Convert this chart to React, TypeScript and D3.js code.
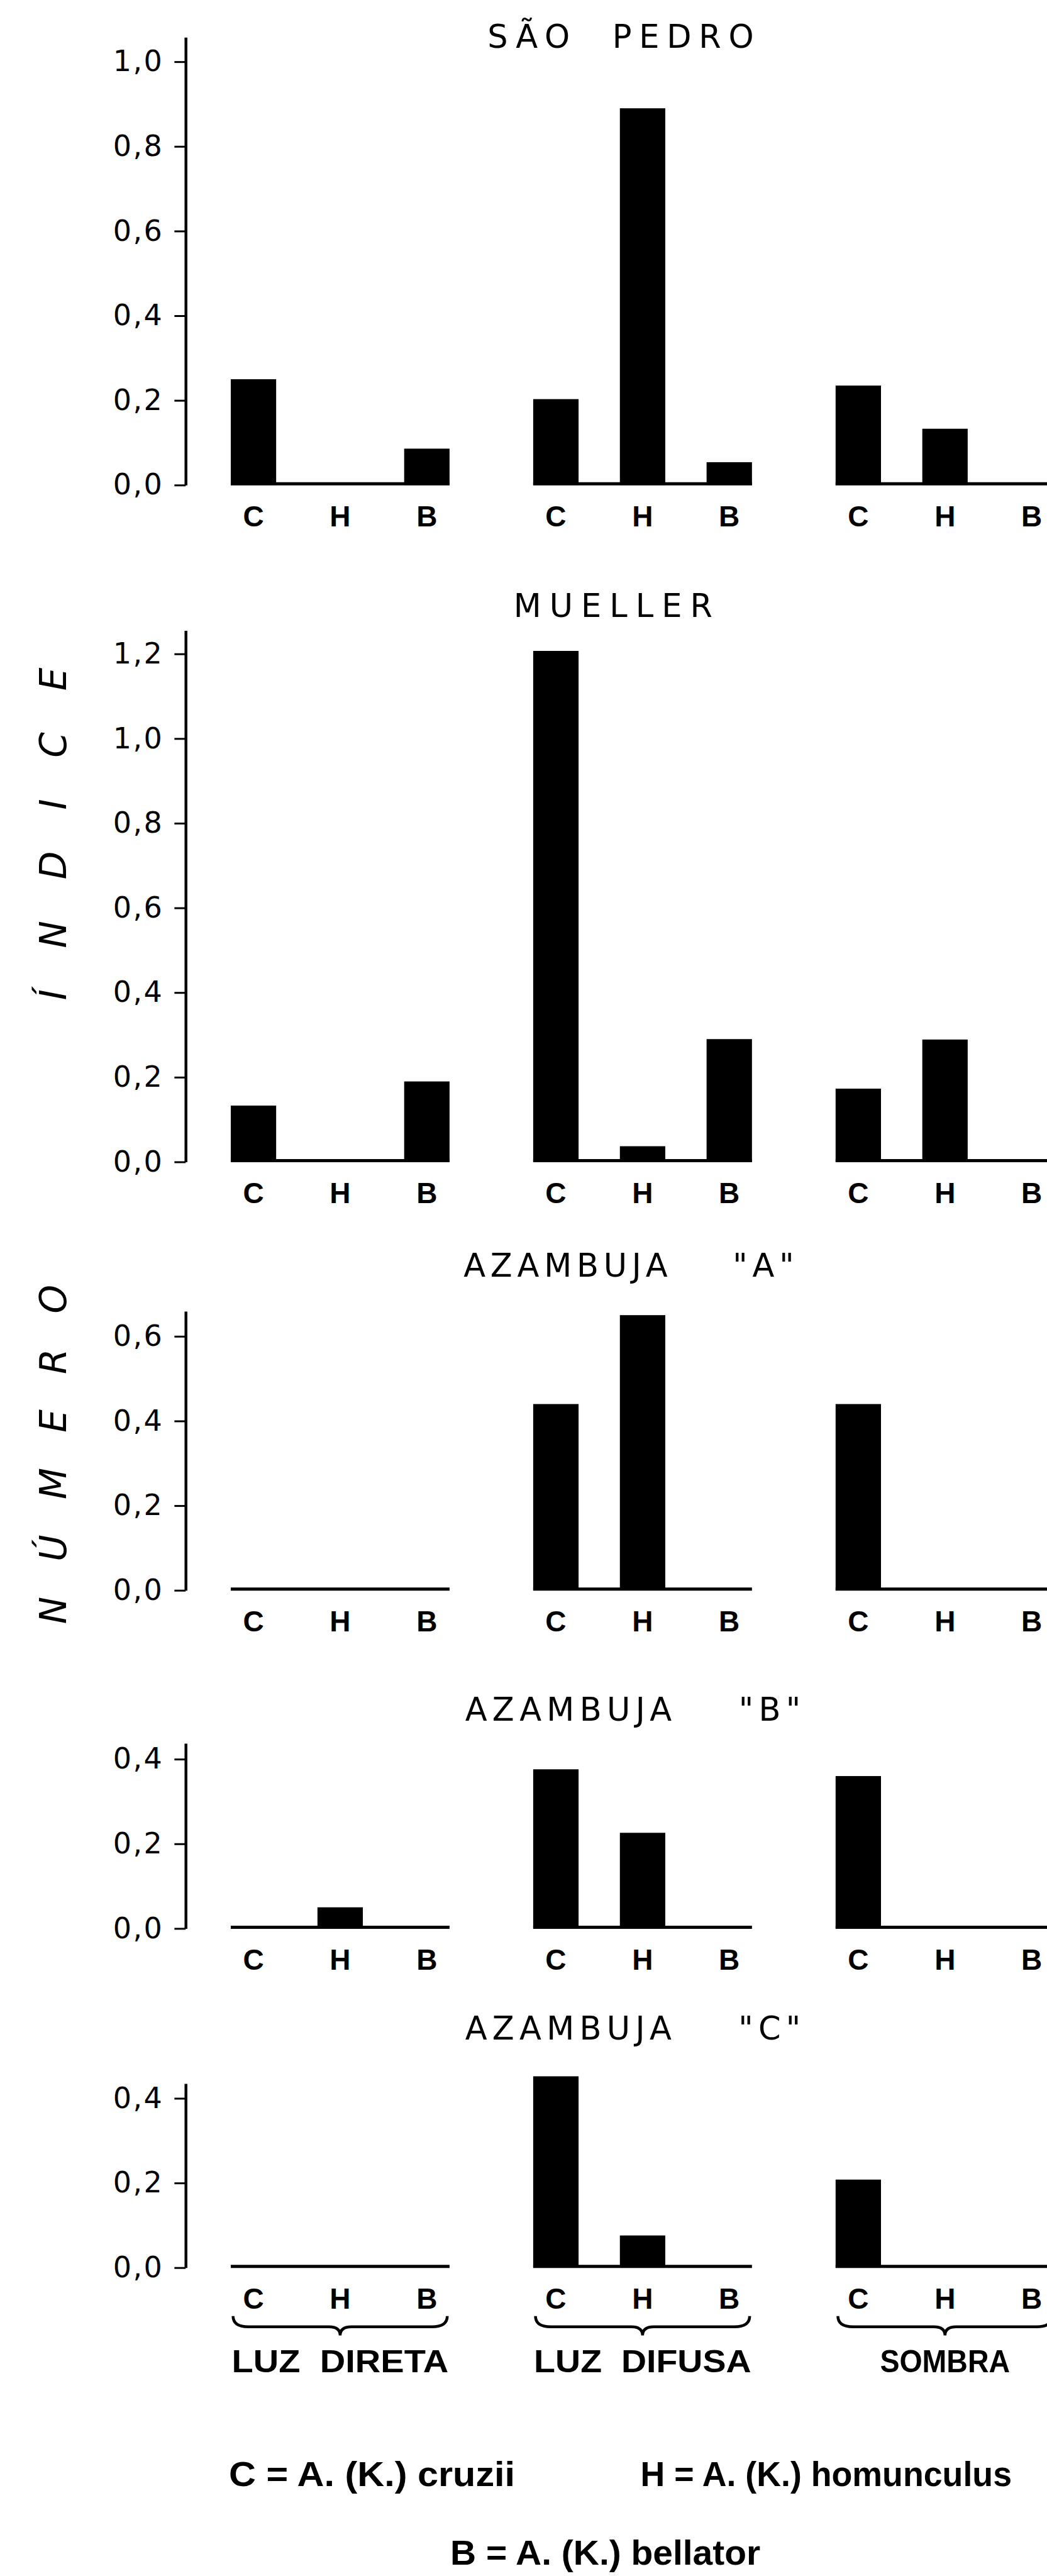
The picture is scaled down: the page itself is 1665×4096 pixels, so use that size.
import React, { useEffect, useRef } from 'react';
import * as d3 from 'd3';

// reference is 2051 x 5045, window is 1665 x 4096
const S = 0.811;
const px = (v: number) => v * S;

const species = ['C', 'H', 'B'];
const conditions = ['LUZ  DIRETA', 'LUZ  DIFUSA', 'SOMBRA'];
const localities = ['SÃO  PEDRO', 'MUELLER', 'AZAMBUJA    "A"', 'AZAMBUJA    "B"', 'AZAMBUJA    "C"'];
const tickMax = [1.0, 1.2, 0.6, 0.4, 0.4];

// número índice per condition, in the order [C, H, B]
const saoPedro = [[0.25, 0, 0.086], [0.203, 0.89, 0.054], [0.235, 0.133, 0]];
const mueller = [[0.133, 0, 0.19], [1.207, 0.037, 0.29], [0.173, 0.289, 0]];
const azambujaA = [[0, 0, 0], [0.44, 0.65, 0], [0.44, 0, 0]];
const azambujaB = [[0, 0.05, 0], [0.376, 0.226, 0], [0.36, 0, 0]];
const azambujaC = [[0, 0, 0], [0.452, 0.076, 0], [0.208, 0, 0]];
const panelData = [saoPedro, mueller, azambujaA, azambujaB, azambujaC];

const legendItems = ['C = A. (K.) cruzii', 'H = A. (K.) homunculus', 'B = A. (K.) bellator'];
const yLabelWords = ['NÚMERO', 'ÍNDICE'];

// layout, in reference pixels
const UNIT = 830; // px per 1.0 of the index
const zeroY = [951, 2278, 3118, 3781, 4446];
const axisTopY = [73, 1236, 2571, 3418, 4085];
const titleY = [94, 1210, 2503, 3373, 3999];
const titleX = [956, 1007, 909, 912, 912];
const titleW = [522, 390, 648, 658, 658];
const legendX = [449, 1256, 883];
const legendY = [4874, 4874, 5028];
const legendW = [561, 728, 608];
const yLabelStart = [3184, 1961];
const yLabelLen = [665, 652];

function App() {
  const svgRef = useRef<SVGSVGElement>(null);

  useEffect(() => {
    const svg = d3.select(svgRef.current);
    svg.selectAll('*').remove();

    const x0 = d3.scalePoint<string>().domain(conditions).range([px(667), px(1853)]);
    const x1 = d3.scalePoint<string>().domain(species).range([-px(170), px(170)]);
    const barW = px(89);
    const fmt = d3.formatLocale({ decimal: ',', thousands: '.', grouping: [3], currency: ['', ''] }).format('.1f');

    panelData.forEach((rows, p) => {
      const top = (zeroY[p] - axisTopY[p]) / UNIT;
      const y = d3.scaleLinear().domain([0, top]).range([px(zeroY[p]), px(axisTopY[p])]);
      const g = svg.append('g');

      // panel title
      g.append('text')
        .attr('x', px(titleX[p]))
        .attr('y', px(titleY[p]))
        .attr('textLength', px(titleW[p]))
        .attr('lengthAdjust', 'spacing')
        .style('white-space', 'pre')
        .attr('font-family', 'DejaVu Sans')
        .attr('font-size', 51)
        .text(localities[p]);

      // y axis
      const axis = d3.axisLeft(y)
        .tickValues(d3.range(0, tickMax[p] + 0.001, 0.2))
        .tickSize(px(22))
        .tickSizeOuter(0)
        .tickPadding(17)
        .tickFormat(d => fmt(+d));
      const ax = g.append('g').attr('transform', `translate(${px(364)},0)`).call(axis);
      ax.select('.domain').attr('stroke', '#000').attr('stroke-width', 4.5);
      ax.selectAll('.tick line').attr('stroke', '#000').attr('stroke-width', 3);
      ax.selectAll('.tick text')
        .attr('font-family', 'DejaVu Sans')
        .attr('font-size', 46)
        .attr('letter-spacing', 2.5)
        .attr('fill', '#000');

      rows.forEach((vals, ci) => {
        const gx = x0(conditions[ci])!;
        // zero line across the group
        g.append('line')
          .attr('x1', gx + x1('C')! - barW / 2)
          .attr('x2', gx + x1('B')! + barW / 2)
          .attr('y1', y(0) - 2)
          .attr('y2', y(0) - 2)
          .attr('stroke', '#000')
          .attr('stroke-width', 5);

        const bars = vals.map((v, i) => ({ v, s: species[i] })).filter(d => d.v > 0);
        g.selectAll(null)
          .data(bars)
          .join('rect')
          .attr('x', d => gx + x1(d.s)! - barW / 2)
          .attr('y', d => y(d.v))
          .attr('width', barW)
          .attr('height', d => y(0) - y(d.v))
          .attr('fill', '#000');

        g.selectAll(null)
          .data(species)
          .join('text')
          .attr('x', d => gx + x1(d)!)
          .attr('y', px(zeroY[p] + 81))
          .attr('text-anchor', 'middle')
          .attr('font-family', 'Liberation Sans')
          .attr('font-weight', 'bold')
          .attr('font-size', 46)
          .text(d => d);
      });
    });

    // braces and condition names under the last panel
    const braceTop = px(4541);
    const braceMid = px(4562);
    const braceTip = px(4579);
    const halfW = px(210);
    conditions.forEach(c => {
      const cx = x0(c)!;
      const path = d3.path();
      path.moveTo(cx - halfW, braceTop);
      path.quadraticCurveTo(cx - halfW, braceMid, cx - halfW + px(30), braceMid);
      path.lineTo(cx - px(22), braceMid);
      path.quadraticCurveTo(cx, braceMid, cx, braceTip);
      path.quadraticCurveTo(cx, braceMid, cx + px(22), braceMid);
      path.lineTo(cx + halfW - px(30), braceMid);
      path.quadraticCurveTo(cx + halfW, braceMid, cx + halfW, braceTop);
      svg.append('path')
        .attr('d', path.toString())
        .attr('fill', 'none')
        .attr('stroke', '#000')
        .attr('stroke-width', 4.5);
    });

    const condW = [425, 426, 255];
    svg.selectAll('text.cond')
      .data(conditions)
      .join('text')
      .attr('class', 'cond')
      .attr('x', d => x0(d)!)
      .attr('y', px(4651))
      .attr('text-anchor', 'middle')
      .attr('textLength', (d, i) => px(condW[i]))
      .attr('lengthAdjust', 'spacingAndGlyphs')
      .style('white-space', 'pre')
      .attr('font-family', 'Liberation Sans')
      .attr('font-weight', 'bold')
      .attr('font-size', 50)
      .text(d => d);

    // rotated y label
    yLabelWords.forEach((w, i) => {
      svg.append('text')
        .attr('transform', `translate(${px(130)},${px(yLabelStart[i])}) rotate(-90)`)
        .attr('textLength', px(yLabelLen[i]))
        .attr('lengthAdjust', 'spacing')
        .attr('font-family', 'DejaVu Sans')
        .attr('font-style', 'italic')
        .attr('font-size', 58)
        .text(w);
    });

    // legend
    legendItems.forEach((t, i) => {
      svg.append('text')
        .attr('x', px(legendX[i]))
        .attr('y', px(legendY[i]))
        .attr('textLength', px(legendW[i]))
        .attr('lengthAdjust', 'spacingAndGlyphs')
        .attr('font-family', 'Liberation Sans')
        .attr('font-weight', 'bold')
        .attr('font-size', 55)
        .text(t);
    });
  }, []);

  return (
    <svg
      ref={svgRef}
      width={1665}
      height={4096}
      style={{ position: 'absolute', left: 0, top: 0, background: '#fff' }}
    />
  );
}

export default App;
